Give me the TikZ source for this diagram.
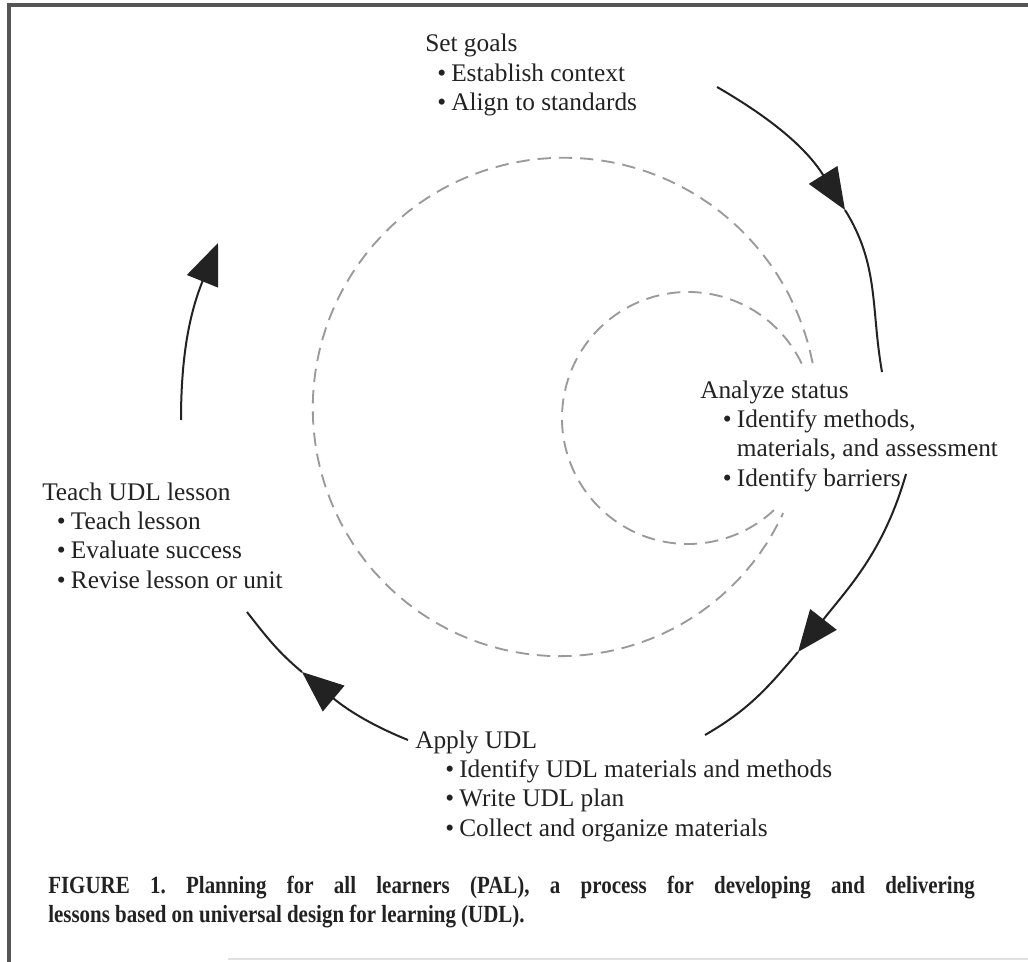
\documentclass[tikz,border=0pt]{standalone}
\usepackage{fontspec}
\setmainfont{Liberation Serif}
\newfontfamily\capfont{Liberation Serif}[FakeStretch=0.85]
\usetikzlibrary{arrows.meta}
\definecolor{ink}{HTML}{222222}
\definecolor{dashgray}{HTML}{9A9A9A}
\definecolor{framegray}{HTML}{555555}
\newcommand{\bitem}[2]{\hspace*{#1}\makebox[10.5pt][l]{\textbullet}#2}
\tikzset{
  label block/.style={anchor=base west, inner sep=0pt, text=ink,
    font=\fontsize{19}{22.1}\selectfont},
  cap line/.style={anchor=base west, inner sep=0pt, text=ink,
    font=\capfont\fontsize{18.5}{22}\selectfont\bfseries\frenchspacing},
  cycle arrow/.style={draw=ink, line width=1.5pt,
    -{Triangle[length=31pt,width=25pt]}},
  cycle line/.style={draw=ink, line width=1.5pt},
  guide/.style={draw=dashgray, line width=1.4pt, dash pattern=on 10pt off 6pt},
  frame/.style={draw=framegray, line width=2.5pt},
}
\begin{document}
\begin{tikzpicture}[x=0.75pt,y=0.75pt]
\useasboundingbox (0,0) rectangle (1028,-962);
\fill[white] (0,0) rectangle (1028,-962);
% frame
\draw[frame] (9,-962) -- (9,-5) -- (1028,-5);
\draw[draw=black!12, line width=1pt] (228,-959) -- (1028,-959);

% dashed guides (outer spiral-like arc and inner arc)
\draw[guide] plot[domain=10.6:335, samples=120, variable=\t]
  ({562+(255-11*(\t-10.6)/324)*cos(\t)}, {-410+(255-11*(\t-10.6)/324)*sin(\t)});
\draw[guide] ([shift={(25.6:126)}]688,-418) arc[start angle=25.6, end angle=313, radius=126];

% labels
\node[label block] (goals) at (425,-52) {\begin{tabular}[t]{@{}l@{}}Set goals\\
  \bitem{9pt}{Establish context}\\ \bitem{9pt}{Align to standards}\end{tabular}};
\node[label block] (status) at (700,-398) {\begin{tabular}[t]{@{}l@{}}Analyze status\\
  \bitem{17pt}{Identify methods,}\\ \hspace*{27.5pt}materials, and assessment\\ \bitem{17pt}{Identify barriers}\end{tabular}};
\node[label block] (apply) at (415,-748) {\begin{tabular}[t]{@{}l@{}}Apply UDL\\
  \bitem{22.5pt}{Identify UDL materials and methods}\\ \bitem{22.5pt}{Write UDL plan}\\ \bitem{22.5pt}{Collect and organize materials}\end{tabular}};
\node[label block] (teach) at (42,-500) {\begin{tabular}[t]{@{}l@{}}Teach UDL lesson\\
  \bitem{11pt}{Teach lesson}\\ \bitem{11pt}{Evaluate success}\\ \bitem{11pt}{Revise lesson or unit}\end{tabular}};

% caption
\node[cap line] (cap1) at (48,-893)
  {\makebox[695pt][s]{FIGURE 1. Planning for all learners (PAL), a process for developing and delivering}};
\node[cap line] (cap2) at (48,-922)
  {lessons based on universal design for learning (UDL).};

% cycle arrows
\coordinate (a1) at (717,-87);  \coordinate (t1) at (845,-210); \coordinate (b1) at (882,-372);
\coordinate (a2) at (906,-474); \coordinate (t2) at (798,-652); \coordinate (b2) at (705,-735);
\coordinate (a3) at (408,-740); \coordinate (t3) at (302,-672); \coordinate (b3) at (247,-612);
\coordinate (a4) at (181,-420); \coordinate (t4) at (218,-243);
\draw[cycle arrow] (a1) to[out=-30,in=122] (t1);
\draw[cycle line] (t1) to[out=-58,in=100] (b1);
\draw[cycle arrow] (a2) to[out=-106,in=52] (t2);
\draw[cycle line] (t2) to[out=-130,in=30] (b2);
\draw[cycle arrow] (a3) to[out=158,in=-40] (t3);
\draw[cycle line] (t3) to[out=140,in=-52] (b3);
\draw[cycle arrow] (a4) to[out=90,in=-112] (t4);
\end{tikzpicture}
\end{document}
